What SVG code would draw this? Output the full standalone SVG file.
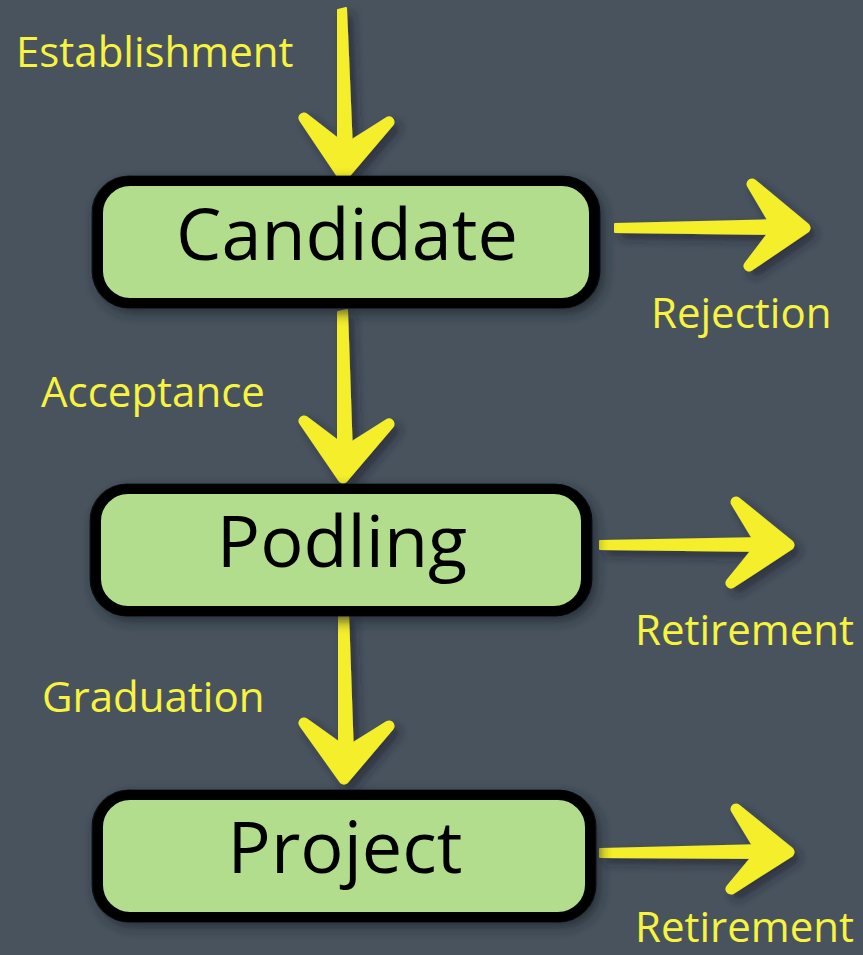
<svg xmlns="http://www.w3.org/2000/svg" width="863" height="955" viewBox="0 0 863 955">
<defs>
<filter id="shadow" x="-20%" y="-20%" width="140%" height="140%">
<feDropShadow dx="4" dy="5" stdDeviation="6" flood-color="#1e242a" flood-opacity="0.7"/>
</filter>
<filter id="ashadow" x="-30%" y="-30%" width="160%" height="160%">
<feDropShadow dx="6" dy="6" stdDeviation="5" flood-color="#1e242a" flood-opacity="0.6"/>
</filter>
<style>
.box{fill:#b2dd8c;stroke:#000;stroke-width:10}
.box2{fill:none;stroke:#000;stroke-width:3;opacity:0.8}
.node{font-family:"Open Sans","Noto Sans",sans-serif;font-size:72px;fill:#000;text-anchor:middle}
.lbl{font-family:"Open Sans","Noto Sans",sans-serif;font-size:42px;fill:#f8f33e}
.shaft{fill:#f5ee2c;stroke:#f5ee2c;stroke-width:2;stroke-linejoin:round}
.head{fill:#f5ee2c;stroke:#f5ee2c;stroke-width:11;stroke-linejoin:round;stroke-linecap:round}
</style>
</defs>
<rect width="863" height="955" fill="#48535e"/>

<g id="connectors" filter="url(#ashadow)">
<g id="arrow-establishment">
<path class="shaft" d="M338 10 L346 8 L352 150 L338 150 Z"/>
<path class="head" d="M304 118 L343 176 L389 122 L345 150 Z"/>
</g>
<g id="arrow-acceptance">
<path class="shaft" d="M338 312 L347 310 L352 455 L338 455 Z"/>
<path class="head" d="M304 421 L343 478 L389 424 L345 452 Z"/>
</g>
<g id="arrow-graduation">
<path class="shaft" d="M339 614 L348 612 L353 755 L339 755 Z"/>
<path class="head" d="M304 723 L344 779 L389 726 L346 753 Z"/>
</g>
<g id="arrow-rejection">
<path class="shaft" d="M615 224 L780 220 L780 234 L615 232 Z"/>
<path class="head" d="M752 184 L805 228 L749 266 L778 228 Z"/>
</g>
<g id="arrow-retirement1">
<path class="shaft" d="M600 541 L765 538 L765 551 L600 549 Z"/>
<path class="head" d="M736 502 L789 545 L731 583 L762 545 Z"/>
</g>
<g id="arrow-retirement2">
<path class="shaft" d="M600 849 L765 845 L765 858 L600 857 Z"/>
<path class="head" d="M736 809 L789 852 L731 889 L762 852 Z"/>
</g>
</g>

<g id="node-candidate" filter="url(#shadow)">
<rect class="box" x="98" y="181" width="496" height="122" rx="32"/>
<rect class="box2" x="93" y="177" width="506" height="130" rx="36"/>
<text class="node" x="347" y="260">Candidate</text>
</g>
<g id="node-podling" filter="url(#shadow)">
<rect class="box" x="96" y="489" width="490" height="122" rx="32"/>
<rect class="box2" x="91" y="485" width="500" height="130" rx="36"/>
<text class="node" x="342" y="567">Podling</text>
</g>
<g id="node-project" filter="url(#shadow)">
<rect class="box" x="98" y="795" width="492" height="122" rx="32"/>
<rect class="box2" x="93" y="791" width="502" height="130" rx="36"/>
<text class="node" x="345" y="873">Project</text>
</g>

<g id="labels">
<text class="lbl" x="16" y="67">Establishment</text>
<text class="lbl" x="651" y="328">Rejection</text>
<text class="lbl" x="41" y="407">Acceptance</text>
<text class="lbl" x="635" y="645">Retirement</text>
<text class="lbl" x="42" y="712">Graduation</text>
<text class="lbl" x="635" y="942">Retirement</text>
</g>
</svg>
